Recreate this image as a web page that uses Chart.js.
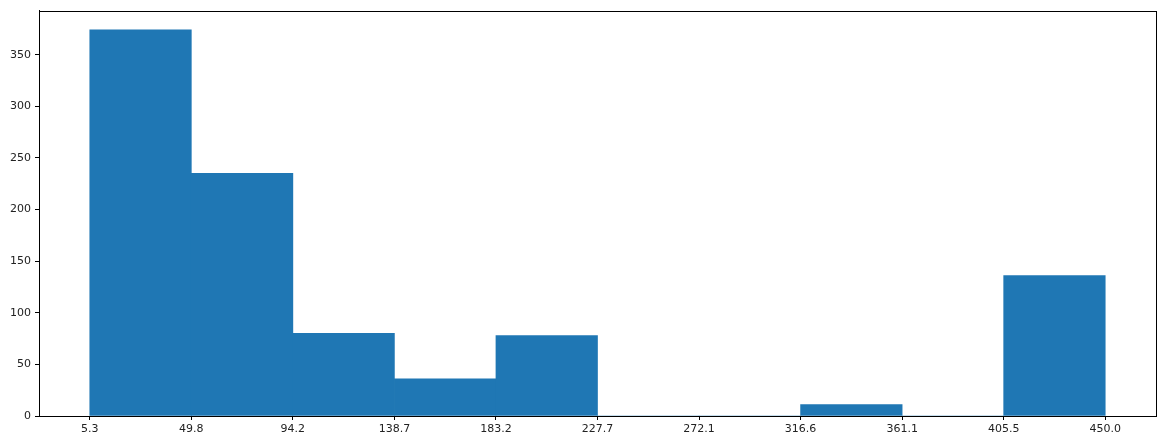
<!DOCTYPE html>
<html>
<head>
<meta charset="utf-8">
<script src="https://cdn.jsdelivr.net/npm/chart.js@4.4.0/dist/chart.umd.min.js"></script>
<style>
  html, body { margin: 0; padding: 0; background: #fff; }
  #wrap { width: 1173px; height: 447px; }
</style>
</head>
<body>
<div id="wrap"><canvas id="histChart" width="1173" height="447"></canvas></div>
<script>
// histogram bin edges (10 bins) and counts
const binEdges = [5.3, 49.77, 94.24, 138.71, 183.18, 227.65, 272.12, 316.59, 361.06, 405.53, 450.0];
const binCounts = [374, 235, 80, 36, 78, 0, 0, 11, 0, 136];
const xTickLabels = ['5.3', '49.8', '94.2', '138.7', '183.2', '227.7', '272.1', '316.6', '361.1', '405.5', '450.0'];
const yTicks = [0, 50, 100, 150, 200, 250, 300, 350];

const barColor = '#1f77b4';

// matplotlib style 5% margins
const span = binEdges[binEdges.length - 1] - binEdges[0];
const xMin = binEdges[0] - span * 0.05;
const xMax = binEdges[binEdges.length - 1] + span * 0.05;
const yMax = Math.max(...binCounts) * 1.05;

const points = binCounts.map((c, i) => ({ x: (binEdges[i] + binEdges[i + 1]) / 2, y: c }));

const frameBox = {
    id: 'frameBox',
    afterDraw(chart) {
        const { ctx, chartArea } = chart;
        ctx.save();
        ctx.strokeStyle = '#000';
        ctx.lineWidth = 1;
        ctx.strokeRect(Math.round(chartArea.left) + 0.5, Math.round(chartArea.top) + 0.5,
            Math.round(chartArea.right - chartArea.left), Math.round(chartArea.bottom - chartArea.top));
        ctx.restore();
    }
};

const tickFont = { family: 'DejaVu Sans', size: 11 };

new Chart(document.getElementById('histChart'), {
    type: 'bar',
    data: {
        datasets: [{
            data: points,
            backgroundColor: barColor,
            borderWidth: 0,
            barPercentage: 1.0,
            categoryPercentage: 1.0
        }]
    },
    options: {
        responsive: false,
        animation: false,
        layout: { padding: { left: 0, right: 17, top: 9, bottom: 0 } },
        plugins: {
            legend: { display: false },
            tooltip: { enabled: false }
        },
        scales: {
            x: {
                type: 'linear',
                min: xMin,
                max: xMax,
                offset: false,
                afterBuildTicks: (scale) => {
                    scale.ticks = binEdges.map(v => ({ value: v }));
                },
                afterFit: (scale) => { scale.height = 31; },
                ticks: {
                    font: tickFont,
                    color: '#222',
                    padding: 3,
                    maxRotation: 0,
                    autoSkip: false,
                    callback: (value, index) => xTickLabels[index]
                },
                grid: {
                    offset: false,
                    drawOnChartArea: false,
                    drawTicks: true,
                    tickLength: 4,
                    color: '#000'
                },
                border: { display: true, color: '#000', width: 1 }
            },
            y: {
                min: 0,
                max: yMax,
                afterBuildTicks: (scale) => {
                    scale.ticks = yTicks.map(v => ({ value: v }));
                },
                afterFit: (scale) => { scale.width = 39; },
                ticks: {
                    font: tickFont,
                    color: '#222',
                    padding: 4
                },
                grid: {
                    offset: false,
                    drawOnChartArea: false,
                    drawTicks: true,
                    tickLength: 4,
                    color: '#000'
                },
                border: { display: true, color: '#000', width: 1 }
            }
        }
    },
    plugins: [frameBox]
});
</script>
</body>
</html>
